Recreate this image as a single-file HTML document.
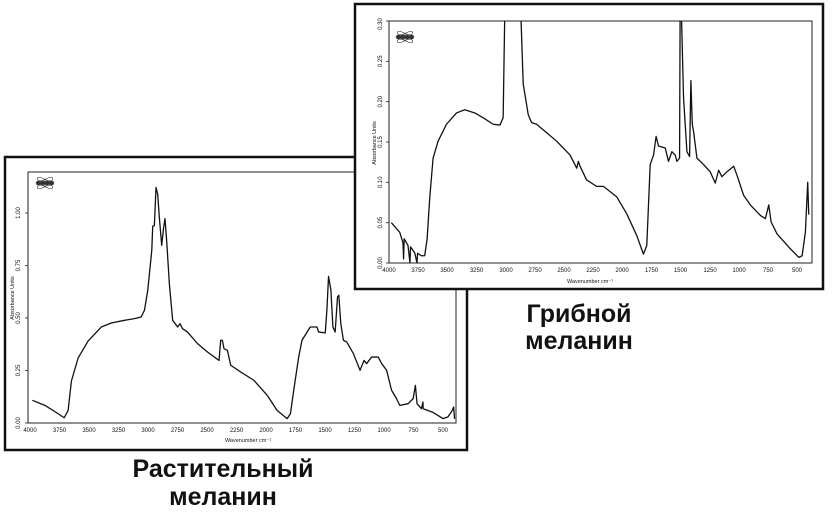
<!DOCTYPE html>
<html><head><meta charset="utf-8"><style>
html,body{margin:0;padding:0;background:#fff;}
svg{display:block;}
.t{font-family:"Liberation Sans",sans-serif;font-size:6px;fill:#111;}
.big{font-family:"Liberation Sans","Noto Sans CJK SC",sans-serif;font-size:25px;font-weight:bold;fill:#111;}
</style></head><body>
<svg width="834" height="512" viewBox="0 0 834 512" xmlns="http://www.w3.org/2000/svg">
<defs>
<clipPath id="cr"><rect x="389" y="21" width="423" height="242"/></clipPath>
</defs>
<!-- LEFT PANEL -->
<rect x="5" y="157" width="462" height="293" fill="#fff" stroke="#111" stroke-width="2.5"/>
<rect x="28" y="172" width="428" height="251" fill="#fff" stroke="#222" stroke-width="1"/>
<g stroke="#222" stroke-width="0.8">
<line x1="25" y1="423" x2="28" y2="423"/><line x1="25" y1="370.5" x2="28" y2="370.5"/><line x1="25" y1="318" x2="28" y2="318"/><line x1="25" y1="265.5" x2="28" y2="265.5"/><line x1="25" y1="213" x2="28" y2="213"/>
</g>
<g class="t">
<text transform="translate(20,423) rotate(-90)" text-anchor="middle">0.00</text>
<text transform="translate(20,370.5) rotate(-90)" text-anchor="middle">0.25</text>
<text transform="translate(20,318) rotate(-90)" text-anchor="middle">0.50</text>
<text transform="translate(20,265.5) rotate(-90)" text-anchor="middle">0.75</text>
<text transform="translate(20,213) rotate(-90)" text-anchor="middle">1.00</text>
<text transform="translate(14,298) rotate(-90)" text-anchor="middle" font-size="5.5">Absorbance Units</text>
<text x="30" y="432" text-anchor="middle">4000</text><text x="59.5" y="432" text-anchor="middle">3750</text><text x="89" y="432" text-anchor="middle">3500</text><text x="118.5" y="432" text-anchor="middle">3250</text><text x="148" y="432" text-anchor="middle">3000</text><text x="177.5" y="432" text-anchor="middle">2750</text><text x="207" y="432" text-anchor="middle">2500</text><text x="236.5" y="432" text-anchor="middle">2250</text><text x="266" y="432" text-anchor="middle">2000</text><text x="295.5" y="432" text-anchor="middle">1750</text><text x="325" y="432" text-anchor="middle">1500</text><text x="354.5" y="432" text-anchor="middle">1250</text><text x="384" y="432" text-anchor="middle">1000</text><text x="413.5" y="432" text-anchor="middle">750</text><text x="443" y="432" text-anchor="middle">500</text>
<text x="248" y="442" text-anchor="middle" font-size="5.5">Wavenumber cm⁻¹</text>
</g>
<g transform="translate(45,183)" fill="none" stroke="#222" stroke-width="0.6"><ellipse rx="9" ry="3"/><ellipse rx="9" ry="3" transform="rotate(35)"/><ellipse rx="9" ry="3" transform="rotate(-35)"/><rect x="-8" y="-1.5" width="16" height="3" fill="#333"/></g>
<g transform="translate(502,423) scale(-0.118,-210)">
<polyline fill="none" stroke="#111" stroke-width="1.3" vector-effect="non-scaling-stroke" stroke-linejoin="round" points="3980,0.108 3874,0.084 3761,0.044 3710,0.025 3677,0.06 3649,0.20 3592,0.31 3508,0.39 3396,0.457 3311,0.476 3199,0.489 3114,0.497 3058,0.505 3030,0.537 3002,0.632 2968,0.822 2960,0.937 2946,0.94 2932,1.122 2918,1.09 2904,0.98 2884,0.846 2867,0.933 2856,0.973 2842,0.87 2819,0.663 2791,0.489 2749,0.457 2729,0.473 2707,0.449 2665,0.433 2580,0.378 2496,0.338 2398,0.298 2384,0.394 2370,0.394 2356,0.354 2327,0.346 2299,0.275 2215,0.243 2102,0.203 1990,0.132 1906,0.06 1821,0.021 1793,0.044 1765,0.156 1723,0.314 1695,0.394 1625,0.457 1568,0.457 1554,0.433 1498,0.429 1484,0.537 1470,0.698 1450,0.632 1433,0.457 1414,0.433 1394,0.6 1383,0.608 1366,0.473 1344,0.394 1316,0.386 1259,0.33 1203,0.251 1169,0.298 1147,0.283 1105,0.314 1049,0.314 1020,0.283 978,0.251 936,0.156 894,0.116 866,0.084 796,0.092 753,0.116 734,0.179 720,0.092 683,0.068 670,0.1 668,0.068 590,0.052 500,0.021 458,0.029 421,0.06 410,0.076 402,0.02"/>
</g>
<!-- RIGHT PANEL -->
<rect x="355" y="4" width="468" height="285" fill="#fff" stroke="#111" stroke-width="2.5"/>
<rect x="389" y="21" width="423" height="242" fill="#fff" stroke="#222" stroke-width="1"/>
<g stroke="#222" stroke-width="0.8">
<line x1="386" y1="263" x2="389" y2="263"/><line x1="386" y1="222.7" x2="389" y2="222.7"/><line x1="386" y1="182.3" x2="389" y2="182.3"/><line x1="386" y1="142" x2="389" y2="142"/><line x1="386" y1="101.7" x2="389" y2="101.7"/><line x1="386" y1="61.3" x2="389" y2="61.3"/><line x1="386" y1="21" x2="389" y2="21"/>
</g>
<g class="t">
<text transform="translate(382,263) rotate(-90)" text-anchor="middle">0.00</text>
<text transform="translate(382,222.7) rotate(-90)" text-anchor="middle">0.05</text>
<text transform="translate(382,182.3) rotate(-90)" text-anchor="middle">0.10</text>
<text transform="translate(382,142) rotate(-90)" text-anchor="middle">0.15</text>
<text transform="translate(382,101.7) rotate(-90)" text-anchor="middle">0.20</text>
<text transform="translate(382,61.3) rotate(-90)" text-anchor="middle">0.25</text>
<text transform="translate(382,24) rotate(-90)" text-anchor="middle">0.30</text>
<text transform="translate(376,143) rotate(-90)" text-anchor="middle" font-size="5.5">Absorbance Units</text>
<text x="389" y="272" text-anchor="middle">4000</text><text x="418" y="272" text-anchor="middle">3750</text><text x="447" y="272" text-anchor="middle">3500</text><text x="476.5" y="272" text-anchor="middle">3250</text><text x="506" y="272" text-anchor="middle">3000</text><text x="535" y="272" text-anchor="middle">2750</text><text x="564" y="272" text-anchor="middle">2500</text><text x="593" y="272" text-anchor="middle">2250</text><text x="622" y="272" text-anchor="middle">2000</text><text x="651.5" y="272" text-anchor="middle">1750</text><text x="680.5" y="272" text-anchor="middle">1500</text><text x="710" y="272" text-anchor="middle">1250</text><text x="739" y="272" text-anchor="middle">1000</text><text x="768" y="272" text-anchor="middle">750</text><text x="797" y="272" text-anchor="middle">500</text>
<text x="590" y="283" text-anchor="middle" font-size="5.5">Wavenumber cm⁻¹</text>
</g>
<g transform="translate(405,37)" fill="none" stroke="#222" stroke-width="0.6"><ellipse rx="9" ry="3"/><ellipse rx="9" ry="3" transform="rotate(35)"/><ellipse rx="9" ry="3" transform="rotate(-35)"/><rect x="-8" y="-1.5" width="16" height="3" fill="#333"/></g>
<g clip-path="url(#cr)">
<g transform="translate(855.4,263) scale(-0.1166,-806.7)">
<polyline fill="none" stroke="#111" stroke-width="1.3" vector-effect="non-scaling-stroke" stroke-linejoin="round" points="3980,0.05 3908,0.038 3880,0.025 3875,0.005 3870,0.03 3837,0.0217 3820,0.0 3815,0.02 3779,0.0125 3760,0.0 3755,0.012 3722,0.009 3694,0.009 3673,0.03 3651,0.08 3622,0.13 3579,0.151 3507,0.172 3421,0.186 3350,0.19 3264,0.186 3192,0.18 3106,0.172 3049,0.171 3021,0.18 3006,0.32 2872,0.32 2849,0.222 2806,0.184 2777,0.174 2734,0.172 2677,0.165 2562,0.151 2448,0.134 2390,0.1175 2376,0.126 2362,0.12 2305,0.103 2219,0.095 2161,0.095 2047,0.082 1961,0.061 1875,0.034 1818,0.011 1789,0.022 1760,0.122 1731,0.134 1709,0.157 1689,0.145 1631,0.1425 1603,0.126 1574,0.138 1546,0.134 1531,0.126 1508,0.13 1503,0.32 1494,0.32 1474,0.205 1445,0.138 1422,0.132 1411,0.226 1399,0.172 1388,0.163 1359,0.13 1302,0.122 1245,0.113 1202,0.099 1173,0.115 1145,0.107 1102,0.113 1044,0.12 1016,0.109 959,0.084 901,0.072 815,0.059 772,0.055 743,0.072 723,0.051 672,0.036 557,0.0175 486,0.007 457,0.009 429,0.038 409,0.1 400,0.06"/>
</g>
</g>
<!-- captions -->
<text class="big" x="579" y="322" text-anchor="middle">Грибной</text>
<text class="big" x="579" y="349" text-anchor="middle">меланин</text>
<text class="big" x="223" y="477" text-anchor="middle">Растительный</text>
<text class="big" x="223" y="505" text-anchor="middle">меланин</text>
</svg>
</body></html>
